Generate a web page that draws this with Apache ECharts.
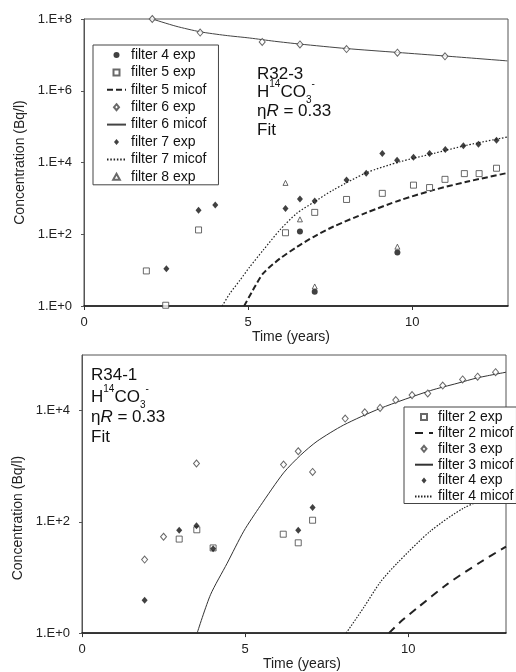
<!DOCTYPE html>
<html>
<head>
<meta charset="utf-8">
<script src="https://cdn.jsdelivr.net/npm/echarts@6/dist/echarts.min.js"></script>
<style>html,body{margin:0;padding:0;background:#fff}#c{width:516px;height:672px}</style>
</head>
<body>
<div id="c"></div>
<script>
// ---------- Top chart: R32-3 (time in years, concentration in Bq/l) ----------
const topF4ExpT = [6.58, 7.03, 9.55];
const topF4Exp = [120, 2.5, 31];
const topF5ExpT = [1.9, 2.49, 3.49, 6.14, 7.03, 8.0, 9.09, 10.04, 10.53, 11.0, 11.59, 12.04, 12.57];
const topF5Exp = [9.5, 1.05, 132, 110, 407, 933, 1380, 2340, 2000, 3390, 4900, 4900, 6920];
const topF5MicT = [4.88, 5.15, 5.46, 5.97, 6.5, 7.0, 7.59, 8.61, 9.63, 10.64, 11.66, 12.9];
const topF5Mic = [1, 2.8, 8.1, 21, 45, 85, 162, 400, 890, 1700, 2900, 5100];
const topF6ExpT = [2.08, 3.54, 5.43, 6.58, 8.0, 9.55, 11.0];
const topF6Exp = [1.0e8, 4.2e7, 2.3e7, 1.95e7, 1.45e7, 1.15e7, 9.1e6];
const topF6MicT = [2.08, 2.8, 3.54, 4.3, 5.05, 5.8, 6.58, 8.0, 9.55, 11.0, 12.9];
const topF6Mic = [1.0e8, 6.3e7, 4.4e7, 3.5e7, 2.95e7, 2.4e7, 2.0e7, 1.5e7, 1.17e7, 9.3e6, 6.8e6];
const topF7ExpT = [2.51, 3.49, 4.0, 6.14, 6.58, 7.03, 8.0, 8.6, 9.09, 9.54, 10.04, 10.53, 11.01, 11.56, 12.02, 12.57];
const topF7Exp = [11, 470, 650, 525, 955, 850, 3240, 5000, 17800, 11500, 14000, 17800, 22900, 29500, 32400, 41700];
const topF7MicT = [4.21, 4.44, 4.75, 5.05, 5.46, 5.97, 6.48, 6.98, 7.59, 8.61, 9.63, 10.64, 11.66, 12.9];
const topF7Mic = [1, 2.2, 5.2, 12.3, 36, 132, 380, 760, 1700, 5200, 10500, 17800, 30200, 51300];
const topF8ExpT = [6.14, 6.58, 7.03, 9.55];
const topF8Exp = [2700, 260, 3.5, 45];

// ---------- Bottom chart: R34-1 ----------
const botF2ExpT = [2.98, 3.52, 4.02, 6.17, 6.63, 7.07];
const botF2Exp = [49, 72, 34, 60, 42, 107];
const botF2MicT = [9.41, 9.8, 10.27, 11.2, 12.2, 13.0];
const botF2Mic = [1, 1.66, 2.8, 7.6, 18.6, 36];
const botF3ExpT = [1.92, 2.5, 3.51, 6.18, 6.63, 7.07, 8.07, 8.67, 9.14, 9.62, 10.12, 10.6, 11.06, 11.67, 12.13, 12.68];
const botF3Exp = [21, 54, 1120, 1070, 1860, 790, 7200, 9300, 11200, 15500, 19000, 20400, 28200, 36300, 40700, 49000];
const botF3MicT = [3.53, 3.94, 4.45, 4.96, 5.47, 6.18, 6.7, 7.21, 8.02, 9.15, 10.68, 11.5, 12.13, 13.0];
const botF3Mic = [1, 4.9, 18, 68, 195, 760, 1580, 2820, 5500, 11000, 22900, 30900, 38900, 49000];
const botF4ExpT = [1.92, 2.98, 3.51, 4.02, 6.63, 7.07];
const botF4Exp = [3.9, 71, 85, 33, 71, 182];
const botF4MicT = [8.1, 8.64, 9.15, 9.66, 10.68, 11.71, 12.73, 13.0];
const botF4Mic = [1, 2.9, 8.3, 18, 68, 178, 309, 355];

// axis settings (decades of the log scale)
const topYDecades = [0, 8];
const botYDecades = [0, 5];
const xTickLabels = [0, 5, 10];

const FONT = "'Liberation Sans', Arial, sans-serif";
const pts = (t, v) => t.map((x, i) => [x, Math.log10(v[i])]);

const openStyle = {color: '#fff', borderColor: '#444', borderWidth: 1};
const fillStyle = {color: '#111'};

function scatter(name, g, t, v, symbol, size, style) {
  return {type: 'scatter', name, xAxisIndex: g, yAxisIndex: g, data: pts(t, v),
    symbol, symbolSize: size, itemStyle: style, z: 3};
}
function line(name, g, t, v, lineType, width, color) {
  return {type: 'line', name, xAxisIndex: g, yAxisIndex: g, data: pts(t, v),
    symbol: 'none', smooth: 0.25,
    lineStyle: {type: lineType, width, color}, itemStyle: {color: 'rgba(0,0,0,0)'}, z: 2};
}

const series = [
  scatter('filter 4 exp', 0, topF4ExpT, topF4Exp, 'circle', 6, fillStyle),
  scatter('filter 5 exp', 0, topF5ExpT, topF5Exp, 'rect', 6, openStyle),
  line('filter 5 micof', 0, topF5MicT, topF5Mic, [6, 3], 2, '#222'),
  scatter('filter 6 exp', 0, topF6ExpT, topF6Exp, 'diamond', [6, 7], openStyle),
  line('filter 6 micof', 0, topF6MicT, topF6Mic, 'solid', 1, '#444'),
  scatter('filter 7 exp', 0, topF7ExpT, topF7Exp, 'diamond', [6, 7], fillStyle),
  line('filter 7 micof', 0, topF7MicT, topF7Mic, [1.5, 1.8], 1.2, '#222'),
  scatter('filter 8 exp', 0, topF8ExpT, topF8Exp, 'triangle', 5, openStyle),

  scatter('filter 2 exp|b', 1, botF2ExpT, botF2Exp, 'rect', 6, openStyle),
  line('filter 2 micof|b', 1, botF2MicT, botF2Mic, [8, 6], 2, '#222'),
  scatter('filter 3 exp|b', 1, botF3ExpT, botF3Exp, 'diamond', [6, 7], openStyle),
  line('filter 3 micof|b', 1, botF3MicT, botF3Mic, 'solid', 1, '#333'),
  scatter('filter 4 exp|b', 1, botF4ExpT, botF4Exp, 'diamond', [6, 7], fillStyle),
  line('filter 4 micof|b', 1, botF4MicT, botF4Mic, [1.5, 1.5], 1.2, '#222')
];

function xAxis(g, max, nameGap, namePad) {
  return {type: 'value', gridIndex: g, min: 0, max, interval: 5,
    name: 'Time (years)', nameLocation: 'middle', nameGap,
    nameTextStyle: {fontFamily: FONT, fontSize: 14, color: '#222', padding: namePad},
    axisLine: {show: true, lineStyle: {color: '#111', width: 1.5}},
    axisTick: {show: true, inside: false, length: 4, lineStyle: {color: '#333'}},
    axisLabel: {fontFamily: FONT, fontSize: 13, color: '#222', margin: 10, showMaxLabel: false,
      formatter: v => xTickLabels.indexOf(v) >= 0 ? String(v) : ''},
    splitLine: {show: false}};
}
function yAxis(g, dec, nameGap, namePad) {
  return {type: 'value', gridIndex: g, min: dec[0], max: dec[1], interval: 2,
    name: 'Concentration (Bq/l)', nameLocation: 'middle', nameGap,
    nameTextStyle: {fontFamily: FONT, fontSize: 14, color: '#222', padding: namePad},
    axisLine: {show: true, lineStyle: {color: '#555', width: 1}},
    axisTick: {show: true, inside: false, length: 3, lineStyle: {color: '#555'}},
    axisLabel: {fontFamily: FONT, fontSize: 13, color: '#222', margin: 12, showMaxLabel: dec[1] % 2 === 0,
      formatter: v => '1.E+' + v},
    splitLine: {show: false}};
}

// legend marker shapes (kept square / un-stretched)
const ICON = {
  circle: 'path://M5,0A5,5,0,1,1,5,10A5,5,0,1,1,5,0Z',
  square: 'path://M0,0L10,0L10,10L0,10Z',
  diamond: 'path://M5,0L10,6L5,12L0,6Z',
  triangle: 'path://M5,0L10,9L0,9Z'
};

const legendCommon = {
  orient: 'vertical', selectedMode: false, backgroundColor: '#fff',
  borderColor: '#444', borderWidth: 1, borderRadius: 0,
  itemHeight: 6, symbolKeepAspect: true,
  textStyle: {fontFamily: FONT, fontSize: 14, color: '#111'},
  formatter: n => n.split('|')[0]
};

const rich = {
  a: {fontFamily: FONT, fontSize: 17, lineHeight: 26, fill: '#111', color: '#111'},
  i: {fontFamily: FONT, fontSize: 17, lineHeight: 26, fontStyle: 'italic', fill: '#111', color: '#111'},
  s: {fontFamily: FONT, fontSize: 10, lineHeight: 18, verticalAlign: 'top', fill: '#111', color: '#111'},
  b: {fontFamily: FONT, fontSize: 10, lineHeight: 15, verticalAlign: 'bottom', fill: '#111', color: '#111'}
};
function note(x, y, text) {
  return {type: 'text', x, y, z: 10,
    style: {text, rich, fontFamily: FONT, fontSize: 17, fill: '#111', verticalAlign: 'middle', align: 'left'}};
}

const option = {
  animation: false,
  backgroundColor: '#fff',
  grid: [
    {left: 84, top: 19, right: 8, bottom: 366, show: true, borderColor: '#555', borderWidth: 1, backgroundColor: 'transparent'},
    {left: 82, top: 355, right: 10, bottom: 25, show: true, borderColor: '#555', borderWidth: 1, backgroundColor: 'transparent'}
  ],
  xAxis: [xAxis(0, 12.92, 24, [0, 10, 0, 0]), xAxis(1, 13.0, 12, [0, 0, 0, 16])],
  yAxis: [yAxis(0, topYDecades, 51, [0, 0, 0, 0]), yAxis(1, botYDecades, 56, [0, 48, 0, 0])],
  legend: [
    Object.assign({}, legendCommon, {left: 93, top: 45, itemWidth: 19, itemGap: 3.4, padding: [3, 12, 1, 13],
      data: [
        {name: 'filter 4 exp', icon: ICON.circle},
        {name: 'filter 5 exp', icon: ICON.square},
        {name: 'filter 5 micof'},
        {name: 'filter 6 exp', icon: ICON.diamond},
        {name: 'filter 6 micof'},
        {name: 'filter 7 exp', icon: ICON.diamond},
        {name: 'filter 7 micof'},
        {name: 'filter 8 exp', icon: ICON.triangle}
      ]}),
    Object.assign({}, legendCommon, {left: 404, top: 407, itemWidth: 18, itemGap: 1.9, padding: [3, 3, 0, 10],
      data: [
        {name: 'filter 2 exp|b', icon: ICON.square},
        {name: 'filter 2 micof|b'},
        {name: 'filter 3 exp|b', icon: ICON.diamond},
        {name: 'filter 3 micof|b'},
        {name: 'filter 4 exp|b', icon: ICON.diamond},
        {name: 'filter 4 micof|b'}
      ]})
  ],
  graphic: [
    note(257, 74.5, '{a|R32-3}'),
    note(257, 92, '{a|H}{s|14}{a|CO}{b|3}{s|-}'),
    note(257, 111, '{a|η}{i|R}{a| = 0.33}'),
    note(257, 130, '{a|Fit}'),
    note(91, 375, '{a|R34-1}'),
    note(91, 397, '{a|H}{s|14}{a|CO}{b|3}{s|-}'),
    note(91, 417, '{a|η}{i|R}{a| = 0.33}'),
    note(91, 437.5, '{a|Fit}')
  ],
  series
};

const chart = echarts.init(document.getElementById('c'), null, {renderer: 'canvas'});
chart.setOption(option);
</script>
</body>
</html>
